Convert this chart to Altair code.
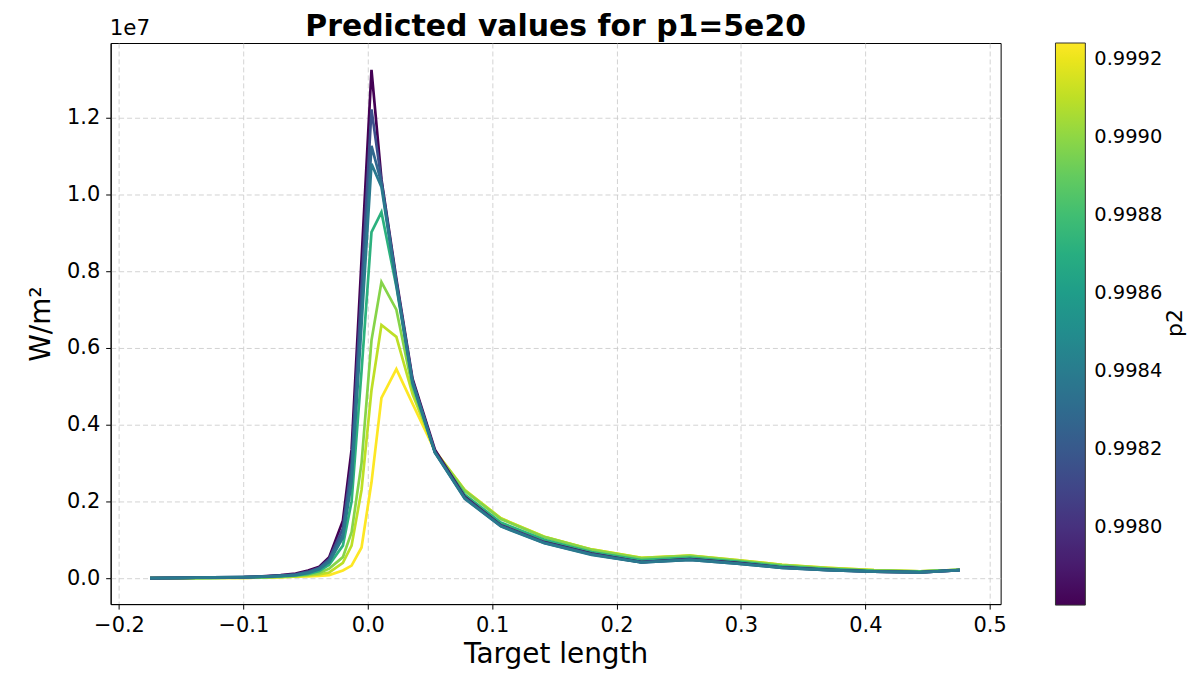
import altair as alt
import pandas as pd

# Target length grid
target_length = [-0.175, -0.15, -0.125, -0.1, -0.085, -0.07, -0.058, -0.048, -0.039, -0.031,
                 -0.02, -0.013, -0.005, 0.003, 0.011, 0.023, 0.036, 0.054, 0.078, 0.107,
                 0.142, 0.18, 0.22, 0.259, 0.297, 0.333, 0.37, 0.407, 0.444, 0.476]

# p2 value of each curve (drawing order)
p2_values = [0.99924, 0.99910, 0.99898, 0.99872, 0.99780, 0.99815, 0.99828, 0.99838]

# predicted W/m² in units of 1e6
curve_yellow = [0.0, 0.0, 0.01, 0.01, 0.02, 0.03, 0.04, 0.05, 0.06, 0.08,
                0.2, 0.33, 0.8, 2.5, 4.7, 5.45, 4.55, 3.32, 2.3, 1.56,
                1.08, 0.75, 0.53, 0.59, 0.47, 0.35, 0.27, 0.21, 0.18, 0.22]
curve_ygreen = [0.0, 0.0, 0.01, 0.01, 0.02, 0.03, 0.05, 0.07, 0.1, 0.15,
                0.4, 0.85, 2.3, 4.9, 6.6, 6.29, 4.8, 3.32, 2.3, 1.56,
                1.08, 0.75, 0.53, 0.59, 0.47, 0.35, 0.27, 0.21, 0.18, 0.22]
curve_lgreen = [0.0, 0.0, 0.01, 0.02, 0.02, 0.04, 0.06, 0.09, 0.14, 0.25,
                0.55, 1.2, 3.0, 6.2, 7.72, 7.0, 4.95, 3.3, 2.28, 1.54,
                1.07, 0.74, 0.52, 0.58, 0.46, 0.34, 0.26, 0.2, 0.18, 0.22]
curve_green = [0.0, 0.01, 0.01, 0.02, 0.03, 0.05, 0.07, 0.11, 0.19, 0.35,
               0.85, 2.0, 5.4, 9.02, 9.54, 7.6, 5.05, 3.28, 2.18, 1.45,
               1.0, 0.68, 0.47, 0.54, 0.43, 0.31, 0.24, 0.19, 0.17, 0.22]
curve_purple = [0.0, 0.01, 0.02, 0.03, 0.05, 0.08, 0.12, 0.2, 0.3, 0.55,
                1.5, 3.35, 8.3, 13.25, 10.4, 7.8, 5.2, 3.35, 2.12, 1.38,
                0.94, 0.64, 0.42, 0.5, 0.4, 0.28, 0.22, 0.17, 0.15, 0.21]
curve_dblue = [0.0, 0.01, 0.02, 0.03, 0.04, 0.07, 0.1, 0.17, 0.27, 0.5,
               1.3, 3.0, 7.6, 12.22, 10.35, 7.72, 5.15, 3.3, 2.1, 1.37,
               0.93, 0.63, 0.42, 0.49, 0.39, 0.28, 0.21, 0.17, 0.15, 0.21]
curve_sblue1 = [0.0, 0.01, 0.02, 0.03, 0.04, 0.06, 0.09, 0.15, 0.25, 0.46,
                1.15, 2.7, 7.0, 11.27, 10.3, 7.7, 5.12, 3.28, 2.08, 1.36,
                0.92, 0.62, 0.41, 0.48, 0.38, 0.27, 0.21, 0.17, 0.15, 0.21]
curve_sblue2 = [0.0, 0.01, 0.02, 0.03, 0.04, 0.06, 0.08, 0.14, 0.23, 0.42,
                1.05, 2.5, 6.6, 10.8, 10.2, 7.65, 5.1, 3.27, 2.07, 1.35,
                0.91, 0.61, 0.41, 0.48, 0.38, 0.27, 0.21, 0.17, 0.15, 0.21]

curves = [curve_yellow, curve_ygreen, curve_lgreen, curve_green,
          curve_purple, curve_dblue, curve_sblue1, curve_sblue2]

x_ticks = [-0.2, -0.1, 0.0, 0.1, 0.2, 0.3, 0.4, 0.5]
y_ticks = [0, 2e6, 4e6, 6e6, 8e6, 10e6, 12e6]
cbar_ticks = [0.998, 0.9982, 0.9984, 0.9986, 0.9988, 0.999, 0.9992]

rows = []
for k, (p2, vals) in enumerate(zip(p2_values, curves)):
    for x, v in zip(target_length, vals):
        rows.append({"x": x, "w": v * 1e6, "p2": p2, "k": k})
df = pd.DataFrame(rows)

FONT = "DejaVu Sans"
PW, PH = 893, 563

lines = alt.Chart(df).mark_line(strokeWidth=2.7, clip=True).encode(
    x=alt.X("x:Q",
            scale=alt.Scale(domain=[-0.2067, 0.5088], nice=False, zero=False),
            axis=alt.Axis(values=x_ticks, format=".1f",
                          title="Target length", titleFontSize=28, titlePadding=6,
                          labelPadding=5)),
    y=alt.Y("w:Q",
            scale=alt.Scale(domain=[-0.675e6, 13.95e6], nice=False, zero=False),
            axis=alt.Axis(values=y_ticks,
                          labelExpr="format(datum.value / 1e7, '.1f')",
                          title="W/m²", titleFontSize=28, titlePadding=11,
                          labelPadding=6)),
    color=alt.Color("p2:Q",
                    scale=alt.Scale(scheme="viridis", domain=[0.99780, 0.99924]),
                    legend=alt.Legend(title=None, orient="none", legendX=948, legendY=0,
                                      direction="vertical", gradientLength=564,
                                      gradientThickness=30,
                                      values=cbar_ticks,
                                      format=".4f", labelFontSize=19.5, labelOffset=9,
                                      labelColor="black", labelFont=FONT,
                                      gradientStrokeColor="#333333", gradientStrokeWidth=1)),
    detail="k:N",
    order=alt.Order("x:Q"),
)

exp_text = alt.Chart(pd.DataFrame({"t": ["1e7"]})).mark_text(
    align="left", baseline="bottom", fontSize=21.5, font=FONT, color="black"
).encode(x=alt.value(-1), y=alt.value(-3), text="t:N")

title_text = alt.Chart(pd.DataFrame({"t": ["Predicted values for p1=5e20"]})).mark_text(
    align="center", baseline="middle", fontSize=30, fontWeight="bold", font=FONT, color="black"
).encode(x=alt.value(PW / 2), y=alt.value(-16), text="t:N")

p2_text = alt.Chart(pd.DataFrame({"t": ["p2"]})).mark_text(
    align="center", baseline="middle", fontSize=22, font=FONT, color="black", angle=270
).encode(x=alt.value(1068), y=alt.value(281), text="t:N")

chart = alt.layer(lines, exp_text, title_text, p2_text).properties(
    width=PW, height=PH,
    autosize=alt.AutoSizeParams(type="none"),
    padding={"left": 103, "top": 34, "right": 190, "bottom": 66},
).configure_view(
    stroke="black", strokeWidth=1
).configure_axis(
    labelFont=FONT, titleFont=FONT, labelFontSize=21, labelColor="black",
    titleColor="black", titleFontWeight="normal",
    domainColor="black", tickColor="black", tickSize=5,
    gridColor="#c8c8c8", gridDash=[5, 3], gridWidth=0.8,
)

chart.save("out.html", embed_options={"renderer": "svg", "actions": False})
